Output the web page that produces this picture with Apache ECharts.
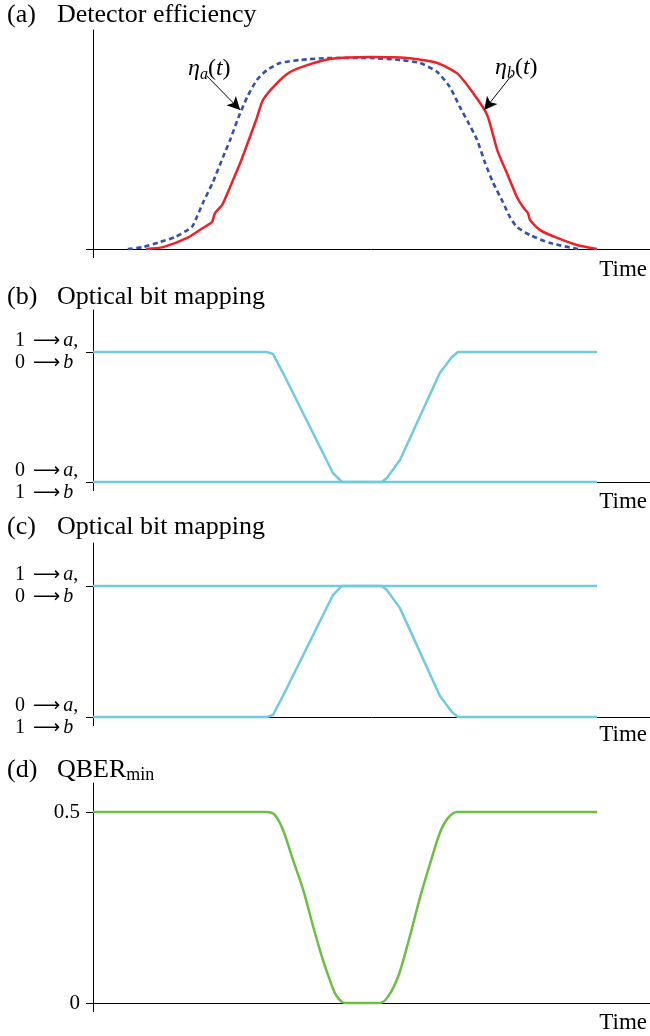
<!DOCTYPE html>
<html>
<head>
<meta charset="utf-8">
<script src="https://cdn.jsdelivr.net/npm/echarts@6/dist/echarts.min.js"></script>
<style>
html, body { margin: 0; padding: 0; background: #fff; }
#show_picture { width: 650px; height: 1036px; }
</style>
</head>
<body>
<div id="show_picture"></div>
<script>
// time axis (arbitrary units), curves end at t = 10
const timeMax = 11.05;

// (a) detector efficiencies
const etaAT = [0.69, 0.99, 1.33, 1.63, 1.96, 2.06, 2.18, 2.38, 2.58, 2.72, 2.88, 3.06, 3.25, 3.45, 3.71, 4.11, 4.70,
    5.50, 6.09, 6.49, 6.83, 7.08, 7.28, 7.44, 7.62, 7.78, 7.94, 8.13, 8.27, 8.41, 8.67, 9.07, 9.62];
const etaAV = [0, 0.01, 0.037, 0.063, 0.115, 0.168, 0.241, 0.351, 0.482, 0.571, 0.686, 0.796, 0.885, 0.937, 0.974, 0.99, 1.0,
    1.0, 0.99, 0.974, 0.927, 0.848, 0.743, 0.665, 0.571, 0.45, 0.346, 0.246, 0.168, 0.115, 0.073, 0.031, 0];
const etaBT = [1.05, 1.39, 1.87, 2.18, 2.36, 2.42, 2.56, 2.72, 2.92, 3.12, 3.25, 3.37, 3.65, 3.91, 4.25, 4.70,
    5.50, 6.23, 6.83, 7.22, 7.54, 7.82, 8.02, 8.21, 8.41, 8.53, 8.63, 8.67, 8.87, 9.21, 9.60, 10.0];
const etaBV = [0, 0.01, 0.058, 0.11, 0.141, 0.188, 0.23, 0.325, 0.45, 0.592, 0.686, 0.78, 0.869, 0.927, 0.963, 0.995,
    1.005, 1.0, 0.974, 0.921, 0.817, 0.702, 0.518, 0.398, 0.272, 0.22, 0.188, 0.152, 0.099, 0.058, 0.021, 0];
// arrows for the annotations: [start, end] in data units
const arrowA = [[2.26, 0.906], [2.92, 0.728]];
const arrowB = [[8.31, 0.911], [7.76, 0.728]];

// (b), (c) optical bit mapping
const mapT = [0, 3.45, 3.57, 3.77, 4.76, 4.94, 5.73, 5.83, 6.09, 6.88, 7.12, 7.24, 10];
const mapB = [1, 1, 0.985, 0.838, 0.069, 0, 0, 0.031, 0.169, 0.838, 0.962, 1, 1];
const mapC = [0, 0, 0.015, 0.162, 0.931, 1, 1, 0.969, 0.831, 0.162, 0.038, 0, 0];
const levelT = [0, 10];
const levelLow = [0, 0];
const levelHigh = [1, 1];

// (d) minimum QBER
const qberT = [0, 3.45, 3.61, 3.77, 3.97, 4.17, 4.37, 4.56, 4.70, 4.82, 5.0, 5.69, 5.85, 6.05, 6.25, 6.49, 6.69, 6.88, 7.04, 7.22, 10];
const qberV = [0.5, 0.5, 0.492, 0.453, 0.374, 0.296, 0.199, 0.113, 0.06, 0.021, 0, 0, 0.016, 0.068, 0.157, 0.277, 0.366, 0.445, 0.484, 0.5, 0.5];

const SERIF = '"Liberation Serif", "DejaVu Serif", serif';

function zip(t, v) {
    return t.map((x, i) => [x, v[i]]);
}

let myChart = echarts.init(document.getElementById('show_picture'));

function xAx(gi) {
    return {
        type: 'value', gridIndex: gi, min: 0, max: timeMax,
        axisLine: { onZero: false, lineStyle: { color: '#000', width: 1 } },
        axisTick: { show: true, length: 9, customValues: [0], lineStyle: { color: '#000', width: 1 } },
        axisLabel: { show: false },
        splitLine: { show: false }
    };
}

const mapRich = {
    n: { fontFamily: SERIF, fontSize: 20, color: '#000', lineHeight: 22 },
    r: { fontFamily: '"DejaVu Sans"', fontSize: 19, color: '#000', lineHeight: 22, padding: [0, 3, 0, 8] },
    i: { fontFamily: SERIF, fontSize: 20, color: '#000', lineHeight: 22, fontStyle: 'italic' }
};

function yMap(gi, max) {
    return {
        type: 'value', gridIndex: gi, min: 0, max: max,
        axisLine: { show: true, lineStyle: { color: '#000', width: 1 } },
        axisTick: { show: true, length: 7, customValues: [0, 1], lineStyle: { color: '#000' } },
        axisLabel: {
            customValues: [0, 1], margin: 78, align: 'left', rich: mapRich,
            formatter: v => v === 1
                ? '{n|1}{r|⟶}{i|a}{n|,}\n{n|0}{r|⟶}{i|b}'
                : '{n|0}{r|⟶}{i|a}{n|,}\n{n|1}{r|⟶}{i|b}'
        },
        splitLine: { show: false }
    };
}

function line(name, data, xi, color, extra) {
    return Object.assign({
        name: name, type: 'line', xAxisIndex: xi, yAxisIndex: xi, data: data,
        showSymbol: false, symbol: 'none', clip: false, silent: true,
        lineStyle: { color: color, width: 2.5 },
        emphasis: { disabled: true }
    }, extra || {});
}

function arrow(a) {
    return {
        silent: true, symbol: ['none', 'arrow'], symbolSize: [10, 13],
        lineStyle: { color: '#000', width: 1, type: 'solid' },
        label: { show: false },
        emphasis: { disabled: true },
        data: [[{ coord: a[0] }, { coord: a[1] }]]
    };
}

const titleFont = '26px ' + SERIF;
function title(label, text, y) {
    return [
        { type: 'text', x: 7, y: y, style: { text: label, font: titleFont, fill: '#000', verticalAlign: 'middle' } },
        { type: 'text', x: 57, y: y, style: { text: text, font: titleFont, fill: '#000', verticalAlign: 'middle' } }
    ];
}

function timeLabel(y) {
    return { type: 'text', x: 647, y: y, style: { text: 'Time', font: '23px ' + SERIF, fill: '#000', align: 'right', verticalAlign: 'middle' } };
}

const etaRich = {
    e: { fontFamily: SERIF, fontSize: 24, fontStyle: 'italic', lineHeight: 28, fill: '#000' },
    n: { fontFamily: SERIF, fontSize: 24, lineHeight: 28, fill: '#000' },
    s: { fontFamily: SERIF, fontSize: 16, fontStyle: 'italic', lineHeight: 15, verticalAlign: 'bottom', fill: '#000' }
};

let option = {
    animation: false,
    backgroundColor: '#fff',
    grid: [
        { left: 93, right: 0, top: 30, height: 219 },
        { left: 93, right: 0, top: 310, height: 172 },
        { left: 93, right: 0, top: 543, height: 174 },
        { left: 93, right: 0, top: 783, height: 220 }
    ],
    xAxis: [xAx(0), xAx(1), xAx(2), xAx(3)],
    yAxis: [
        {
            type: 'value', gridIndex: 0, min: 0, max: 1.147,
            axisLine: { show: true, lineStyle: { color: '#000', width: 1 } },
            axisTick: { show: true, length: 7, customValues: [0], lineStyle: { color: '#000' } },
            axisLabel: { show: false },
            splitLine: { show: false }
        },
        yMap(1, 1.323),
        yMap(2, 1.328),
        {
            type: 'value', gridIndex: 3, min: 0, max: 0.576,
            axisLine: { show: true, lineStyle: { color: '#000', width: 1 } },
            axisTick: { show: true, length: 7, customValues: [0, 0.5], lineStyle: { color: '#000' } },
            axisLabel: {
                customValues: [0, 0.5], margin: 13, fontFamily: SERIF, fontSize: 21, color: '#000',
                formatter: v => String(v)
            },
            splitLine: { show: false }
        }
    ],
    series: [
        line('eta_a', zip(etaAT, etaAV), 0, '#3550ac', {
            smooth: 0.2,
            lineStyle: { color: '#3550ac', width: 2.6, type: [5, 3.5] },
            markLine: arrow(arrowA)
        }),
        line('eta_b', zip(etaBT, etaBV), 0, '#ee2128', {
            smooth: 0.2,
            markLine: arrow(arrowB)
        }),
        line('b_low', zip(levelT, levelLow), 1, '#70cbdd'),
        line('b_map', zip(mapT, mapB), 1, '#70cbdd'),
        line('c_high', zip(levelT, levelHigh), 2, '#70cbdd'),
        line('c_map', zip(mapT, mapC), 2, '#70cbdd'),
        line('qber', zip(qberT, qberV), 3, '#6cbf44', { smooth: 0.3 })
    ],
    graphic: [].concat(
        title('(a)', 'Detector efficiency', 15),
        title('(b)', 'Optical bit mapping', 297),
        title('(c)', 'Optical bit mapping', 527),
        [
            { type: 'text', x: 7, y: 770, style: { text: '(d)', font: titleFont, fill: '#000', verticalAlign: 'middle' } },
            {
                type: 'text', x: 57, y: 770,
                style: {
                    text: '{n|QBER}{s|min}', verticalAlign: 'middle',
                    rich: {
                        n: { fontFamily: SERIF, fontSize: 26, lineHeight: 29, fill: '#000' },
                        s: { fontFamily: SERIF, fontSize: 18, lineHeight: 17, verticalAlign: 'bottom', fill: '#000' }
                    }
                }
            },
            { type: 'text', x: 188, y: 69, style: { text: '{e|η}{s|a}{n|(}{e|t}{n|)}', rich: etaRich, verticalAlign: 'middle' } },
            { type: 'text', x: 495, y: 68, style: { text: '{e|η}{s|b}{n|(}{e|t}{n|)}', rich: etaRich, verticalAlign: 'middle' } },
            timeLabel(270), timeLabel(502), timeLabel(735), timeLabel(1023)
        ]
    )
};

option && myChart.setOption(option);
</script>
</body>
</html>
